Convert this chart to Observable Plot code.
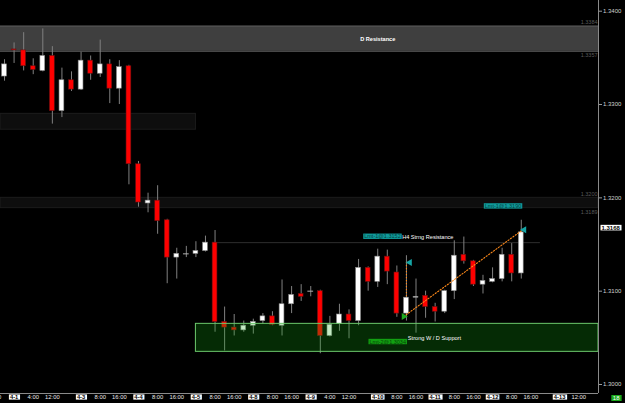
<!DOCTYPE html>
<html><head><meta charset="utf-8">
<script src="https://cdn.jsdelivr.net/npm/d3@7"></script>
<script src="https://cdn.jsdelivr.net/npm/@observablehq/plot@0.6"></script>
<style>
html,body{margin:0;padding:0;background:#000;overflow:hidden}
#chart svg{display:block}
</style></head><body><div id="chart"></div>
<script>
// ---- 4H candles (bar index 0..54) ----
const opens  = [1.3330,1.3359,1.3358,1.3341,1.3336,1.3352,1.3293,1.3326,1.3316,1.3347,1.3333,1.3343,1.3317,1.3341,1.3236,1.3194,1.3197,1.3176,1.3136,1.3140,1.3140,1.3143,1.3152,1.3067,1.3061,1.3058,1.3063,1.3068,1.3073,1.3063,1.3086,1.3097,1.3100,1.3100,1.3052,1.3065,1.3075,1.3068,1.3125,1.3110,1.3137,1.3120,1.3076,1.3093,1.3095,1.3083,1.3078,1.3100,1.3139,1.3132,1.3107,1.3110,1.3113,1.3139,1.3119];
const highs  = [1.3348,1.3366,1.3377,1.3349,1.3381,1.3362,1.3339,1.3335,1.3356,1.3352,1.3369,1.3348,1.3347,1.3342,1.3239,1.3205,1.3213,1.3177,1.3146,1.3148,1.3153,1.3159,1.3165,1.3083,1.3075,1.3068,1.3070,1.3076,1.3078,1.3112,1.3105,1.3107,1.3105,1.3101,1.3073,1.3086,1.3080,1.3134,1.3126,1.3145,1.3144,1.3127,1.3138,1.3113,1.3100,1.3087,1.3101,1.3154,1.3158,1.3133,1.3117,1.3125,1.3146,1.3151,1.3176];
const lows   = [1.3325,1.3344,1.3336,1.3332,1.3335,1.3279,1.3286,1.3314,1.3315,1.3326,1.3329,1.3301,1.3300,1.3214,1.3190,1.3184,1.3161,1.3108,1.3113,1.3136,1.3136,1.3142,1.3056,1.3036,1.3052,1.3056,1.3054,1.3065,1.3063,1.3052,1.3076,1.3089,1.3094,1.3033,1.3051,1.3057,1.3049,1.3063,1.3100,1.3104,1.3107,1.3072,1.3068,1.3055,1.3071,1.3067,1.3076,1.3091,1.3129,1.3105,1.3097,1.3109,1.3110,1.3110,1.3113];
const closes = [1.3343,1.3358,1.3341,1.3337,1.3352,1.3293,1.3326,1.3316,1.3347,1.3333,1.3343,1.3317,1.3340,1.3236,1.3195,1.3197,1.3175,1.3136,1.3140,1.3140,1.3143,1.3152,1.3067,1.3061,1.3058,1.3063,1.3067,1.3073,1.3064,1.3086,1.3096,1.3094,1.3100,1.3052,1.3064,1.3075,1.3068,1.3125,1.3110,1.3137,1.3121,1.3076,1.3093,1.3094,1.3083,1.3078,1.3100,1.3138,1.3132,1.3107,1.3111,1.3113,1.3139,1.3119,1.3163];

// ---- axes ----
const xTickPos    = [-1.1,1,3,5,8,10,12,14,16,18,20,22,24,26,28,30,32,34,36,39,41,43,45,47,49,51,53,55,58,60];
const xTickLabels = ["20:00","4-1","4:00","12:00","4-3","8:00","16:00","4-4","8:00","16:00","4-5","8:00","16:00","4-8","8:00","16:00","4-9","4:00","12:00","4-10","8:00","16:00","4-11","8:00","16:00","4-12","8:00","16:00","4-13","12:00"];
const yTicks = [1.30,1.31,1.32,1.33,1.34];
const xDomain = [-0.42, 62.07];
const yDomain = [1.299037, 1.341146];

// ---- zones ----
const zoneNames = ["D Resistance","Old H4 range","1.3200 band","Strong W / D Support"];
const zoneLow   = [1.3357, 1.3273, 1.3189, 1.3035];
const zoneHigh  = [1.3384, 1.3290, 1.3200, 1.3065];
const zoneStart = [-0.42, -0.42, -0.42, 20];
const zoneEnd   = [62.07, 20, 62.07, 62.07];

const levelText = ["1.3384","1.3357","1.3200","1.3189"];
const levelY    = [1.3384, 1.3357, 1.3200, 1.3189];
const levelTop  = [true, false, true, false];

const resistLevel = 1.3152, resistStart = 21.8, resistEnd = 56;

const noteText = ["D Resistance","H4 Strng Resistance","Strong W / D Support"];
const noteX    = [39, 41.55, 42.15];
const noteY    = [1.33705, 1.31578, 1.30496];

const limitText = ["Lmt-1@1.3152","Lmt-1@1.3190","Lmt-2@1.3034"];
const limitX    = [41.4, 54, 41.95];
const limitY    = [1.31586, 1.31911, 1.30458];

const trendX = [41.72, 54.16];
const trendY = [1.30729, 1.31658];
const entryX = 42, entryY1 = 1.31307, entryY2 = 1.30930;

const markerX = [41.72, 42.35, 54.3];
const markerY = [1.30729, 1.31307, 1.31658];
const markerKind = ["buy","target","target"];

const lastPrice = 1.3168;
const barCount = "18";

const candles = opens.map((o,i)=>({i, open:o, high:highs[i], low:lows[i], close:closes[i]}));
const zones = zoneNames.map((n,k)=>({name:n, low:zoneLow[k], high:zoneHigh[k], start:zoneStart[k], end:zoneEnd[k]}));
const levels = levelText.map((t,k)=>({t, y:levelY[k], top:levelTop[k]}));
const notes = noteText.map((t,k)=>({t, x:noteX[k], y:noteY[k]}));
const limits = limitText.map((t,k)=>({t, x:limitX[k], y:limitY[k], k}));
const markers = markerX.map((x,k)=>({x, y:markerY[k], kind:markerKind[k]}));
const ticks = xTickPos.map((p,k)=>({p, label:xTickLabels[k], date:xTickLabels[k].includes("-")}));

// text colours that also identify which texts get a background box
const TEAL_TXT = "#064040", GREEN_TXT = "#064406", DATE_TXT = "#010101", PRICE_TXT = "#020202", COUNT_TXT = "#fefefe";

const FONT = "'Liberation Sans', Arial, sans-serif";
const chart = Plot.plot({
  width: 625, height: 403,
  marginLeft: 0, marginRight: 27, marginTop: 0, marginBottom: 10,
  style: {background: "#000", fontFamily: FONT, overflow: "hidden"},
  x: {type: "linear", domain: xDomain, axis: null},
  y: {type: "linear", domain: yDomain},
  marks: [
    // background bands
    Plot.rect([zones[0]], {x1:"start", x2:"end", y1:"low", y2:"high", fill:"#3f3f3f"}),
    Plot.ruleY([zones[0]], {y:"low", x1:"start", x2:"end", stroke:"#585858"}),
    Plot.ruleY([zones[0]], {y:"high", x1:"start", x2:"end", stroke:"#585858"}),
    Plot.rect([zones[1], zones[2]], {x1:"start", x2:"end", y1:"low", y2:"high", fill:"#0e0e0e", stroke:"#1c1c1c"}),
    Plot.ruleY([resistLevel], {x1: resistStart, x2: resistEnd, stroke:"#2e2e2e"}),
    // candles
    Plot.ruleX(candles, {x:"i", y1:"low", y2:"high", stroke:"#808080", strokeWidth:1}),
    Plot.rect(candles, {filter: d=>d.close>d.open, x1: d=>d.i-0.25, x2: d=>d.i+0.25, y1:"open", y2:"close", fill:"#ffffff", stroke:"#8a8a8a", strokeWidth:0.6}),
    Plot.rect(candles, {filter: d=>d.close<d.open, x1: d=>d.i-0.25, x2: d=>d.i+0.25, y1:"open", y2:"close", fill:"#ff0000", stroke:"#6a1010", strokeWidth:0.6}),
    Plot.ruleY(candles, {filter: d=>d.close===d.open, y:"open", x1: d=>d.i-0.3, x2: d=>d.i+0.3, stroke:"#b0b0b0", strokeWidth:1}),
    // support zone over candles
    Plot.rect([zones[3]], {x1:"start", x2:"end", y1:"low", y2:"high", fill:"#14aa14", fillOpacity:0.25, stroke:"#6cc86c", strokeWidth:1}),
    // trade drawing
    Plot.line(trendX.map((x,k)=>({x, y:trendY[k]})), {x:"x", y:"y", stroke:"#ff8a1a", strokeWidth:1.1, strokeDasharray:"1.2,1.8"}),
    Plot.ruleX([entryX], {y1: entryY1, y2: entryY2, stroke:"#ff8a1a", strokeWidth:1.1, strokeDasharray:"1.2,1.8"}),
    Plot.dot(markers, {filter: d=>d.kind==="buy", x:"x", y:"y", symbol:"triangle", r:2.6, rotate:90, fill:"#1faa1f"}),
    Plot.dot(markers, {filter: d=>d.kind==="target", x:"x", y:"y", symbol:"triangle", r:2.6, rotate:-90, fill:"#15a5a5"}),
    // level labels
    Plot.text(levels, {filter: d=>d.top, x: xDomain[1], y:"y", text:"t", textAnchor:"end", dx:-1, dy:-4, fill:"#5a5a5a", fontSize:5.5}),
    Plot.text(levels, {filter: d=>!d.top, x: xDomain[1], y:"y", text:"t", textAnchor:"end", dx:-1, dy:4, fill:"#5a5a5a", fontSize:5.5}),
    // limit boxes
    Plot.text(limits, {filter: d=>d.k<2, x:"x", y:"y", text:"t", textAnchor:"end", fill:TEAL_TXT, fontSize:5.5}),
    Plot.text(limits, {filter: d=>d.k===2, x:"x", y:"y", text:"t", textAnchor:"end", fill:GREEN_TXT, fontSize:5.5}),
    // notes
    Plot.text(notes, {filter: d=>d.t!=="D Resistance", x:"x", y:"y", text:"t", textAnchor:"start", fill:"#ffffff", fontSize:5.6}),
    Plot.text(notes, {filter: d=>d.t==="D Resistance", x:"x", y:"y", text:"t", textAnchor:"middle", fill:"#ffffff", fontSize:5.6, fontWeight:"bold"}),
    // frame lines
    Plot.ruleX([xDomain[1]], {stroke:"#8a8a8a"}),
    Plot.ruleY([yDomain[0]], {stroke:"#8a8a8a"}),
    // y axis
    Plot.axisY(yTicks, {anchor:"right", tickFormat: d=>d.toFixed(4), tickSize:3, tickPadding:1.5, stroke:"#9a9a9a", fill:"#d0d0d0", fontSize:6}),
    Plot.text([lastPrice], {x: xDomain[1], y: d=>d, text: d=>d.toFixed(4), textAnchor:"start", dx:3, fill:PRICE_TXT, fontSize:6, fontWeight:"bold"}),
    // x axis labels
    Plot.text(ticks, {filter: d=>!d.date, x:"p", text:"label", frameAnchor:"bottom", dy:5.5, fill:"#e8e8e8", fontSize:5.8}),
    Plot.text(ticks, {filter: d=>d.date, x:"p", text:"label", frameAnchor:"bottom", dy:5.5, fill:DATE_TXT, fontSize:5.8, fontWeight:"bold"}),
    Plot.text([barCount], {frameAnchor:"bottom-right", dx:21, dy:6.5, fill:COUNT_TXT, fontSize:6})
  ]
});
document.getElementById("chart").appendChild(chart);

function norm(c){ return (c||"").toLowerCase().replace(/\s/g,""); }
function boxify(textColor, fill, padX, padY){
  const want = norm(textColor);
  const rgb = (()=>{ const c = d3.rgb(textColor); return `rgb(${c.r},${c.g},${c.b})`; })();
  chart.querySelectorAll("text").forEach(t=>{
    let el = t, f = null;
    while (el && el !== chart) { const a = el.getAttribute && el.getAttribute("fill"); if (a) { f = norm(a); break; } el = el.parentNode; }
    if (f !== want && f !== rgb.replace(/\s/g,"")) return;
    const b = t.getBBox();
    const r = document.createElementNS("http://www.w3.org/2000/svg","rect");
    r.setAttribute("x", b.x-padX); r.setAttribute("y", b.y-padY);
    r.setAttribute("width", b.width+2*padX); r.setAttribute("height", b.height+2*padY);
    r.setAttribute("fill", fill);
    if (t.getAttribute("transform")) r.setAttribute("transform", t.getAttribute("transform"));
    t.parentNode.insertBefore(r, t);
  });
}
boxify(TEAL_TXT, "#0f9a9a", 1, -0.3);
boxify(GREEN_TXT, "#12a012", 1, -0.3);
boxify(PRICE_TXT, "#ffffff", 1, -0.2);
boxify(DATE_TXT, "#ffffff", 1, -0.4);
boxify(COUNT_TXT, "#1aa81a", 1.5, 0);
</script></body></html>
